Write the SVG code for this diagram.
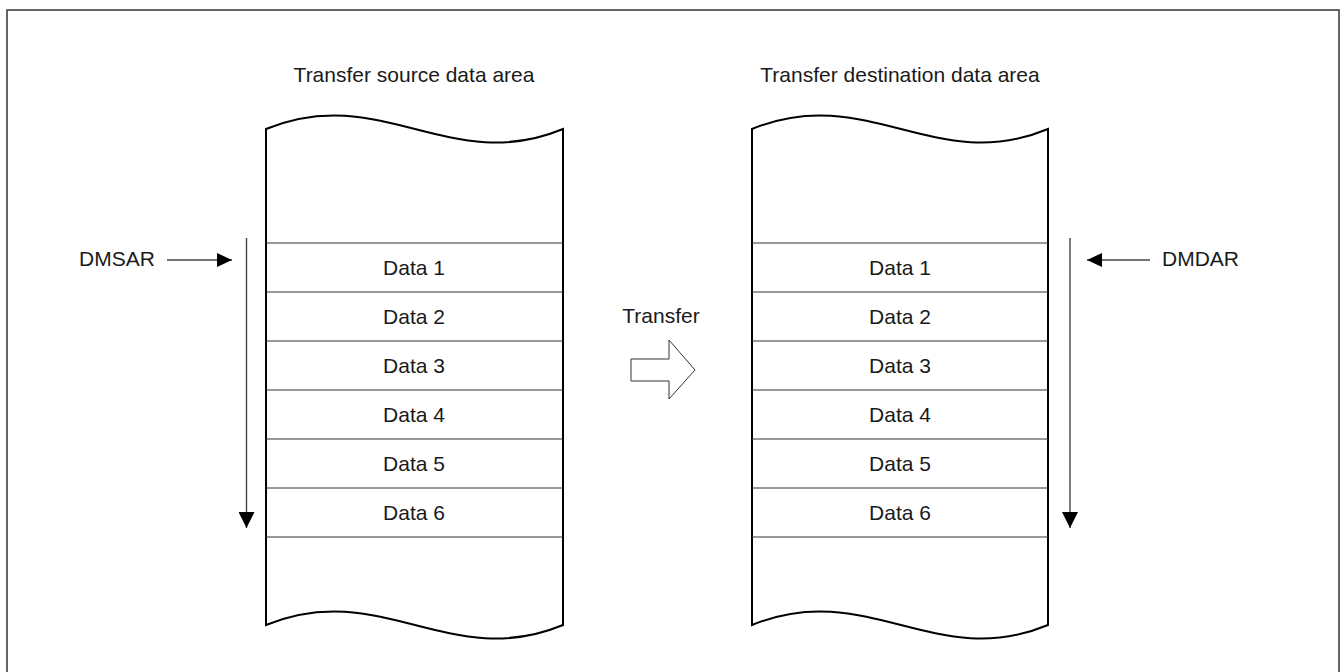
<svg xmlns="http://www.w3.org/2000/svg" width="1340" height="672" viewBox="0 0 1340 672">
<style>
text{font-family:"Liberation Sans",Arial,sans-serif;font-size:21px;fill:#1a1a1a}
.c{text-anchor:middle}
.col{fill:#fff;stroke:#000;stroke-width:2}
.row{stroke:#333;stroke-width:1;fill:none}
.ptr{stroke:#444;stroke-width:1.4;fill:none}
</style>
<defs>
<marker id="ah" markerWidth="15" markerHeight="14" refX="15" refY="7" orient="auto" markerUnits="userSpaceOnUse" viewBox="0 0 15 14">
<path d="M0,0 L15,7 L0,14 Z" fill="#000"/>
</marker>
<marker id="ahd" markerWidth="16" markerHeight="16" refX="16" refY="8" orient="auto" markerUnits="userSpaceOnUse" viewBox="0 0 16 16">
<path d="M0,0 L16,8 L0,16 Z" fill="#000"/>
</marker>
</defs>
<rect x="7" y="10" width="1332" height="672" fill="none" stroke="#333" stroke-width="1.5"/>

<g id="source-area">
<text class="c" x="414" y="82">Transfer source data area</text>
<path class="col" d="M266,129 C380,82 450,176 563,129 L563,625 C450,672 380,578 266,625 Z"/>
<line class="row" x1="266" y1="243" x2="563" y2="243"/>
<line class="row" x1="266" y1="292" x2="563" y2="292"/>
<line class="row" x1="266" y1="341" x2="563" y2="341"/>
<line class="row" x1="266" y1="390" x2="563" y2="390"/>
<line class="row" x1="266" y1="439" x2="563" y2="439"/>
<line class="row" x1="266" y1="488" x2="563" y2="488"/>
<line class="row" x1="266" y1="537" x2="563" y2="537"/>
<text class="c" x="414" y="275">Data 1</text>
<text class="c" x="414" y="324">Data 2</text>
<text class="c" x="414" y="373">Data 3</text>
<text class="c" x="414" y="422">Data 4</text>
<text class="c" x="414" y="471">Data 5</text>
<text class="c" x="414" y="520">Data 6</text>
</g>

<g id="dest-area">
<text class="c" x="900" y="82">Transfer destination data area</text>
<path class="col" d="M752,129 C866,82 936,176 1048,129 L1048,625 C936,672 866,578 752,625 Z"/>
<line class="row" x1="752" y1="243" x2="1048" y2="243"/>
<line class="row" x1="752" y1="292" x2="1048" y2="292"/>
<line class="row" x1="752" y1="341" x2="1048" y2="341"/>
<line class="row" x1="752" y1="390" x2="1048" y2="390"/>
<line class="row" x1="752" y1="439" x2="1048" y2="439"/>
<line class="row" x1="752" y1="488" x2="1048" y2="488"/>
<line class="row" x1="752" y1="537" x2="1048" y2="537"/>
<text class="c" x="900" y="275">Data 1</text>
<text class="c" x="900" y="324">Data 2</text>
<text class="c" x="900" y="373">Data 3</text>
<text class="c" x="900" y="422">Data 4</text>
<text class="c" x="900" y="471">Data 5</text>
<text class="c" x="900" y="520">Data 6</text>
</g>

<g id="dmsar">
<text x="79" y="266">DMSAR</text>
</g>
<g id="dmdar">
<text x="1162" y="266">DMDAR</text>
</g>
<g id="transfer">
<text class="c" x="661" y="323">Transfer</text>
<path d="M631,359 L669,359 L669,340 L695,370 L669,399 L669,381 L631,381 Z" fill="#fff" stroke="#333" stroke-width="1"/>
</g>

<g id="connectors">
<line class="ptr" x1="167" y1="260" x2="232" y2="260" marker-end="url(#ah)"/>
<line class="ptr" x1="1150" y1="260" x2="1087" y2="260" marker-end="url(#ah)"/>
<line class="ptr" x1="246.5" y1="238" x2="246.5" y2="528" marker-end="url(#ahd)"/>
<line class="ptr" x1="1070" y1="238" x2="1070" y2="528" marker-end="url(#ahd)"/>
</g>
</svg>
